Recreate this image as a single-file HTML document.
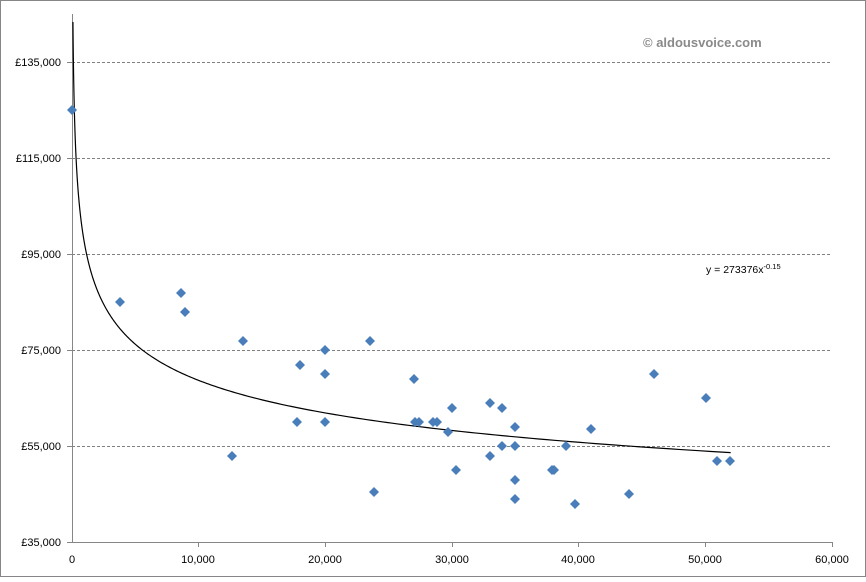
<!DOCTYPE html>
<html><head><meta charset="utf-8"><style>
body{margin:0;background:#fff}
svg text{font-family:"Liberation Sans",sans-serif}
</style></head><body>
<svg id="s" width="866" height="577" xmlns="http://www.w3.org/2000/svg">
<rect x="0.5" y="0.5" width="865" height="576" fill="#fff" stroke="#868686"/>
<g stroke="#808080" stroke-dasharray="3,2" stroke-width="1">
<line x1="72" x2="832" y1="62.5" y2="62.5"/>
<line x1="72" x2="832" y1="158.5" y2="158.5"/>
<line x1="72" x2="832" y1="254.5" y2="254.5"/>
<line x1="72" x2="832" y1="350.5" y2="350.5"/>
<line x1="72" x2="832" y1="446.5" y2="446.5"/>
</g>
<g stroke="#868686" stroke-width="1">
<line x1="72.5" x2="72.5" y1="14" y2="542"/>
<line x1="72" x2="832" y1="542.5" y2="542.5"/>
<line x1="67" x2="72" y1="62.5" y2="62.5"/><line x1="67" x2="72" y1="158.5" y2="158.5"/>
<line x1="67" x2="72" y1="254.5" y2="254.5"/><line x1="67" x2="72" y1="350.5" y2="350.5"/>
<line x1="67" x2="72" y1="446.5" y2="446.5"/><line x1="67" x2="72" y1="542.5" y2="542.5"/>
<line x1="198.5" x2="198.5" y1="542" y2="547"/><line x1="325.5" x2="325.5" y1="542" y2="547"/>
<line x1="452.5" x2="452.5" y1="542" y2="547"/><line x1="578.5" x2="578.5" y1="542" y2="547"/>
<line x1="705.5" x2="705.5" y1="542" y2="547"/><line x1="832.5" x2="832.5" y1="542" y2="547"/>
</g>
<g font-size="11" fill="#000" text-anchor="end">
<text x="61" y="66">£135,000</text><text x="61" y="162">£115,000</text>
<text x="61" y="258">£95,000</text><text x="61" y="354">£75,000</text>
<text x="61" y="450">£55,000</text><text x="61" y="546">£35,000</text>
</g>
<g font-size="11" fill="#000" text-anchor="middle">
<text x="72" y="563">0</text><text x="198" y="563">10,000</text><text x="325" y="563">20,000</text>
<text x="452" y="563">30,000</text><text x="578" y="563">40,000</text><text x="705" y="563">50,000</text>
<text x="832" y="563">60,000</text>
</g>
<text x="643" y="47" font-size="13" font-weight="bold" fill="#8a8a8a">© aldousvoice.com</text>
<text x="706" y="273" font-size="10.5">y = 273376x<tspan dy="-4" font-size="7.5">-0.15</tspan></text>
<path id="tr" fill="none" stroke="#000" stroke-width="1.2"/>
<g id="pts" fill="#4a7ebb"></g>
</svg>
<script>
var d="";
for(var i=0;i<=400;i++){var x=74*Math.pow(52000/74,i/400);var v=273376*Math.pow(x,-0.15);
var px=72+x*0.012667,py=542-(v-35000)*0.0048;d+=(i?"L":"M")+px.toFixed(2)+","+py.toFixed(2);}
document.getElementById("tr").setAttribute("d",d);
var P=[[72,110],[120,302],[181,293],[185,312],[232,456],[243,341],[300,365],[297,422],[325,350],[325,374],[325,422],[370,341],[374,492],[414,379],[415,422],[419,422],[433,422],[437,422],[448,432],[452,408],[456,470],[490,403],[490,456],[502,408],[502,446],[515,427],[515,446],[515,480],[515,499],[552,470],[554,470],[566,446],[575,504],[591,429],[629,494],[654,374],[706,398],[717,461],[730,461]];
var g=document.getElementById("pts"),h="";
P.forEach(function(p){h+='<polygon points="'+p[0]+','+(p[1]-5)+' '+(p[0]+5)+','+p[1]+' '+p[0]+','+(p[1]+5)+' '+(p[0]-5)+','+p[1]+'"/>';});
g.innerHTML=h;
</script>
</body></html>
